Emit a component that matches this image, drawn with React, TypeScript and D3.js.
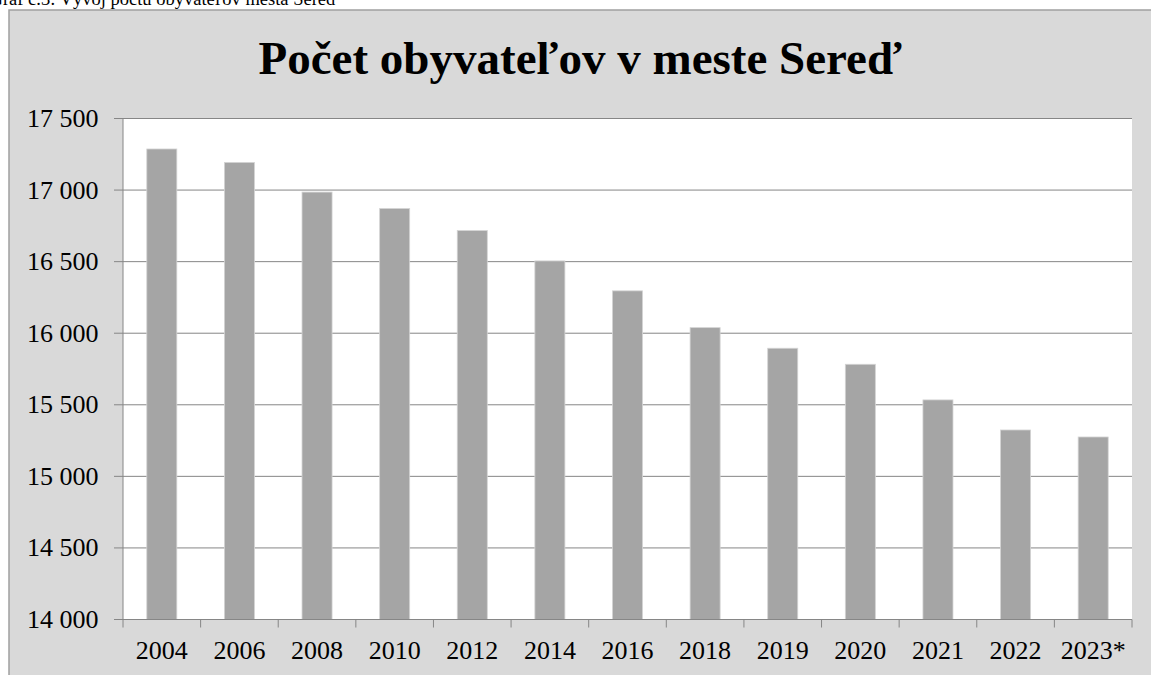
import React from "react";
import * as d3 from "d3";

const categories = ["2004", "2006", "2008", "2010", "2012", "2014", "2016", "2018", "2019", "2020", "2021", "2022", "2023*"];
const population = [17287, 17193, 16986, 16871, 16717, 16505, 16296, 16039, 15895, 15783, 15534, 15324, 15275];
const yTicks = [14000, 14500, 15000, 15500, 16000, 16500, 17000, 17500];
const titleText = "Počet obyvateľov v meste Sereď";
const captionText = "Graf č.3: Vývoj počtu obyvateľov mesta Sereď";

const W = 1151;
const H = 675;
const plot = { left: 123, right: 1132, top: 118.5, bottom: 619.5 };
const FONT = "'Liberation Serif', 'Times New Roman', serif";

const locale = d3.formatLocale({ decimal: ",", thousands: " ", grouping: [3], currency: ["", ""] });
const fmt = locale.format(",d");

export default function App() {
  const y = d3.scaleLinear().domain([14000, 17500]).range([plot.bottom, plot.top]);
  const x = d3.scaleBand<string>().domain(categories).range([plot.left, plot.right]).paddingInner(0.613).paddingOuter(0.3065);
  const slots = d3.scaleBand<string>().domain(categories).range([plot.left, plot.right]).padding(0);
  const boundaries = categories.map((c) => slots(c) as number).concat([plot.right]);

  return (
    <svg width={W} height={H} style={{ position: "absolute", left: 0, top: 0, display: "block" }} fontFamily={FONT}>
      <rect x={0} y={0} width={W} height={H} fill="#ffffff" />
      <text x={338} y={5} fontSize={18.5} textAnchor="end" fill="#000">{captionText}</text>
      <rect x={9} y={10} width={W + 10} height={H} fill="#d9d9d9" stroke="#a0a0a0" strokeWidth={1.5} />
      <text x={580} y={74} fontSize={47} fontWeight="bold" textAnchor="middle" fill="#000">{titleText}</text>
      <rect x={plot.left} y={plot.top} width={plot.right - plot.left} height={plot.bottom - plot.top} fill="#ffffff" />
      {yTicks.map((t) => (
        <g key={t}>
          <line x1={114} x2={plot.right} y1={y(t)} y2={y(t)} stroke="#868686" strokeWidth={1} />
          <text x={98.5} y={y(t) + 8.5} fontSize={26} textAnchor="end" fill="#000">{fmt(t)}</text>
        </g>
      ))}
      {categories.map((c, i) => (
        <rect
          key={c}
          x={x(c)}
          y={y(population[i])}
          width={x.bandwidth()}
          height={plot.bottom - y(population[i])}
          fill="#a5a5a5"
          stroke="#d4d4d4"
          strokeWidth={0.8}
        />
      ))}
      <line x1={plot.left} x2={plot.left} y1={plot.top} y2={plot.bottom} stroke="#868686" strokeWidth={1} />
      <line x1={plot.left} x2={plot.right} y1={plot.bottom} y2={plot.bottom} stroke="#868686" strokeWidth={1} />
      {boundaries.map((b, i) => (
        <line key={i} x1={b} x2={b} y1={plot.bottom} y2={plot.bottom + 8} stroke="#868686" strokeWidth={1} />
      ))}
      {categories.map((c) => (
        <text key={c} x={(slots(c) as number) + slots.bandwidth() / 2} y={658.5} fontSize={26} textAnchor="middle" fill="#000">
          {c}
        </text>
      ))}
    </svg>
  );
}
